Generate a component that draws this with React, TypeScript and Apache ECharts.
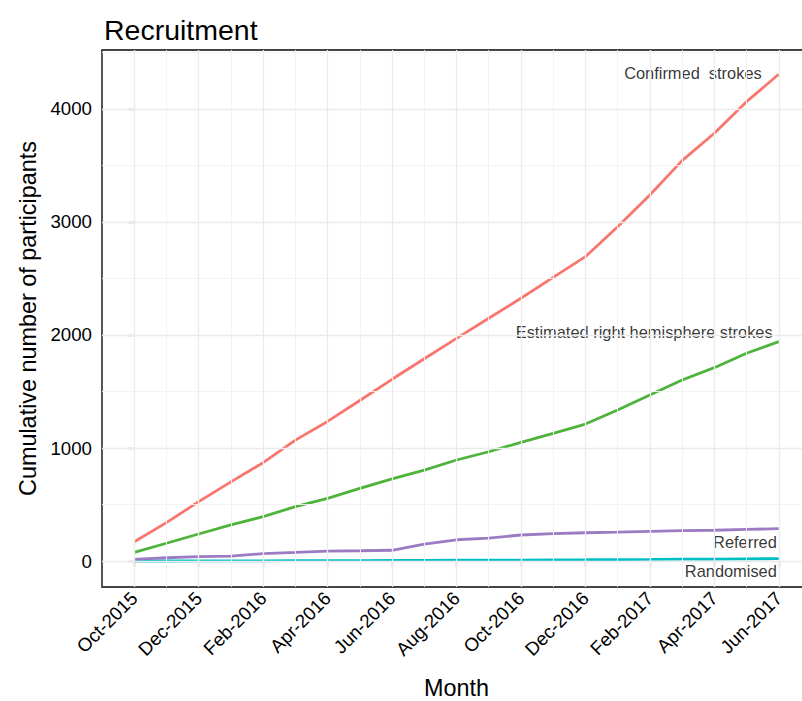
import React, { useEffect, useRef } from 'react';
import * as echarts from 'echarts';

const months = [
  'Oct-2015', 'Nov-2015', 'Dec-2015', 'Jan-2016', 'Feb-2016', 'Mar-2016', 'Apr-2016',
  'May-2016', 'Jun-2016', 'Jul-2016', 'Aug-2016', 'Sep-2016', 'Oct-2016', 'Nov-2016',
  'Dec-2016', 'Jan-2017', 'Feb-2017', 'Mar-2017', 'Apr-2017', 'May-2017', 'Jun-2017',
];
const confirmed = [171, 340, 525, 700, 870, 1070, 1235, 1420, 1608, 1790, 1970, 2148, 2325, 2510, 2693, 2958, 3239, 3543, 3785, 4065, 4307];
const estimatedRight = [77, 157, 239, 319, 392, 481, 555, 643, 726, 805, 894, 967, 1050, 1130, 1212, 1336, 1469, 1602, 1711, 1838, 1941];
const referred = [15, 29, 38, 44, 65, 76, 88, 91, 95, 150, 188, 203, 230, 243, 250, 256, 263, 268, 272, 280, 286];
const randomised = [0, 0, 1, 1, 2, 3, 3, 4, 5, 6, 7, 8, 8, 10, 11, 13, 14, 16, 17, 19, 21];

const xTickIdx = [0, 2, 4, 6, 8, 10, 12, 14, 16, 18, 20];
const xMinorIdx = [1, 3, 5, 7, 9, 11, 13, 15, 17, 19];
const yTicks = [0, 1000, 2000, 3000, 4000];
const yMinor = [500, 1500, 2500, 3500, 4500];

const annotationText = ['Confirmed  strokes', 'Estimated right hemisphere strokes', 'Referred', 'Randomised'];
const annotationX = [19.47, 19.81, 19.94, 19.94];
const annotationY = [4315, 2027, 171, -86];

const FONT = '"Liberation Sans", Arial, Helvetica, sans-serif';

export default function App() {
  const ref = useRef<HTMLDivElement>(null);
  useEffect(() => {
    if (!ref.current) return;
    const chart = echarts.init(ref.current, null, { renderer: 'svg' });
    const toPairs = (arr: number[]) => arr.map((v, i) => [i, v]);
    const gridStyleMajor = { color: '#EBEBEB', width: 1.3, type: 'solid' };
    const gridStyleMinor = { color: '#F2F2F2', width: 0.9, type: 'solid' };
    const lineSeries = (name: string, data: number[], color: string) => ({
      name,
      type: 'line',
      data: toPairs(data),
      showSymbol: false,
      symbol: 'none',
      z: 3,
      lineStyle: { color, width: 2.8 },
      itemStyle: { color },
    });
    chart.setOption({
      animation: false,
      backgroundColor: '#ffffff',
      textStyle: { fontFamily: FONT },
      title: {
        text: 'Recruitment',
        left: 99,
        top: 10,
        textStyle: { fontSize: 28.5, fontWeight: 'normal', color: '#000', fontFamily: FONT },
      },
      grid: {
        left: 102,
        top: 50,
        width: 709,
        height: 537,
        outerBoundsMode: 'none',
        containLabel: false,
        show: true,
        borderColor: '#444',
        borderWidth: 1.8,
        backgroundColor: '#fff',
        z: 0,
      },
      xAxis: {
        type: 'value',
        min: -1,
        max: 21,
        name: 'Month',
        nameLocation: 'middle',
        nameGap: 89,
        nameTextStyle: { fontSize: 23.4, color: '#000', fontFamily: FONT },
        axisLine: { show: false },
        axisTick: {
          show: true,
          length: 6,
          customValues: xTickIdx,
          lineStyle: { color: '#333', width: 1.2 },
        },
        axisLabel: {
          show: true,
          customValues: xTickIdx,
          rotate: 45,
          margin: 8,
          fontSize: 18.7,
          color: '#000',
          fontFamily: FONT,
          hideOverlap: false,
          formatter: (v: number) => months[Math.round(v)] ?? '',
        },
        splitLine: { show: false },
      },
      yAxis: {
        type: 'value',
        min: -230,
        max: 4522,
        name: 'Cumulative number of participants',
        nameLocation: 'middle',
        nameGap: 63,
        nameTextStyle: { fontSize: 23.4, color: '#000', fontFamily: FONT },
        axisLine: { show: false },
        axisTick: {
          show: true,
          length: 6,
          customValues: yTicks,
          lineStyle: { color: '#333', width: 1.2 },
        },
        axisLabel: {
          show: true,
          customValues: yTicks,
          margin: 10,
          fontSize: 18.7,
          color: '#000',
          fontFamily: FONT,
          formatter: (v: number) => String(v),
        },
        splitLine: { show: false },
      },
      series: [
        {
          name: 'grid',
          type: 'line',
          data: [[-1, -230]],
          showSymbol: false,
          symbol: 'none',
          lineStyle: { opacity: 0 },
          silent: true,
          z: 1,
          markLine: {
            silent: true,
            symbol: 'none',
            label: { show: false },
            emphasis: { disabled: true },
            data: [
              ...yMinor.map((v) => ({ yAxis: v, lineStyle: gridStyleMinor })),
              ...xMinorIdx.map((v) => ({ xAxis: v, lineStyle: gridStyleMinor })),
              ...yTicks.map((v) => ({ yAxis: v, lineStyle: gridStyleMajor })),
              ...xTickIdx.map((v) => ({ xAxis: v, lineStyle: gridStyleMajor })),
            ],
          },
        },
        lineSeries('Randomised', randomised, '#00BFC4'),
        lineSeries('Referred', referred, '#9B7CC4'),
        lineSeries('Estimated right hemisphere strokes', estimatedRight, '#4DB33A'),
        lineSeries('Confirmed strokes', confirmed, '#F8766D'),
        {
          name: 'annotations',
          type: 'scatter',
          symbolSize: 0,
          z: 4,
          silent: true,
          data: annotationX.map((x, i) => ({ value: [x, annotationY[i]], name: annotationText[i] })),
          label: {
            show: true,
            position: 'left',
            distance: 0,
            formatter: (p: any) => p.name,
            fontSize: 16.4,
            color: '#000',
            fontFamily: FONT,
          },
        },
      ],
    });
    return () => chart.dispose();
  }, []);
  return (
    <div
      ref={ref}
      style={{ position: 'absolute', left: 0, top: 0, width: 802, height: 701 }}
    />
  );
}
